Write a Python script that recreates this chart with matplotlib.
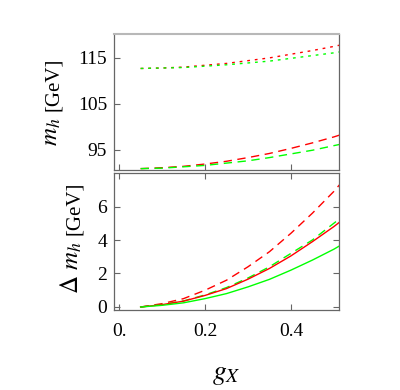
import matplotlib.pyplot as plt
import numpy as np

plt.rcParams["font.family"] = ["Liberation Serif", "DejaVu Serif"]
plt.rcParams["mathtext.fontset"] = "stix"

# coupling values
g_x = [0.05, 0.10, 0.15, 0.20, 0.25, 0.30, 0.35, 0.40, 0.45, 0.50, 0.52]

# Higgs mass, top panel [GeV]
mh_red_dotted = [112.7, 112.8, 113.0, 113.4, 113.8, 114.4, 115.0, 115.8, 116.6, 117.5, 117.9]
mh_green_dotted = [112.7, 112.8, 112.9, 113.2, 113.5, 113.9, 114.3, 114.9, 115.5, 116.1, 116.4]
mh_red_dashed = [90.9, 91.1, 91.4, 91.9, 92.5, 93.3, 94.2, 95.3, 96.5, 97.8, 98.4]
mh_green_dashed = [90.9, 91.0, 91.3, 91.6, 92.1, 92.6, 93.3, 94.1, 94.9, 95.9, 96.3]

# mass shift, bottom panel [GeV]
dm_red_dashed = [0.0, 0.2, 0.5, 1.0, 1.6, 2.4, 3.3, 4.4, 5.6, 6.9, 7.5]
dm_green_dashed = [0.0, 0.15, 0.36, 0.72, 1.16, 1.73, 2.4, 3.2, 4.0, 5.0, 5.4]
dm_red_solid = [0.0, 0.14, 0.35, 0.69, 1.1, 1.66, 2.3, 3.05, 3.9, 4.8, 5.2]
dm_green_solid = [0.0, 0.1, 0.25, 0.5, 0.8, 1.2, 1.65, 2.2, 2.8, 3.45, 3.75]

RED = (1.0, 0.0, 0.0)
GREEN = (0.0, 1.0, 0.0)
DOTTED = (0, (2.0, 3.5))
DASHED = (0, (6.0, 4.0))
FRAME = (0.4, 0.4, 0.4)


def style(ax):
    for s in ax.spines.values():
        s.set_color(FRAME)
        s.set_linewidth(0.9)
    ax.tick_params(direction="in", length=4, width=0.8, color=FRAME,
                   labelsize=14, pad=5)
    ax.tick_params(axis="x", pad=9)
    ax.set_xlim(-0.012, 0.512)
    ax.set_xticks([0.0, 0.2, 0.4])


def ylabel(ax, x, y_big, y_unit, big):
    # big italic symbol + smaller unit, both rotated, sharing one baseline
    kw = dict(transform=ax.transAxes, rotation=90, rotation_mode="anchor",
              ha="center", va="baseline")
    ax.text(x, y_big, big, fontsize=18, **kw)
    ax.text(x, y_unit, "[GeV]", fontsize=15, **kw)


fig = plt.figure(figsize=(4.0, 3.9), dpi=100)
ax1 = fig.add_axes([0.285, 0.5641, 0.5625, 0.3487])
ax2 = fig.add_axes([0.285, 0.2051, 0.5625, 0.3513])

ax1.plot(g_x, mh_red_dotted, color=RED, lw=1.0, ls=DOTTED)
ax1.plot(g_x, mh_green_dotted, color=GREEN, lw=1.0, ls=DOTTED)
ax1.plot(g_x, mh_red_dashed, color=RED, lw=1.0, ls=DASHED)
ax1.plot(g_x, mh_green_dashed, color=GREEN, lw=1.0, ls=DASHED)
style(ax1)
ax1.spines["top"].set_color((0.72, 0.72, 0.72))
ax1.spines["top"].set_linewidth(1.5)
ax1.set_ylim(90.6, 120.2)
ax1.set_yticks([95, 105, 115])
ax1.tick_params(labelbottom=False, bottom=True, left=True)
ylabel(ax1, -0.249, 0.28, 0.63, r"$m_h$")

ax2.plot(g_x, dm_red_dashed, color=RED, lw=1.0, ls=DASHED)
ax2.plot(g_x, dm_green_dashed, color=GREEN, lw=1.0, ls=DASHED)
ax2.plot(g_x, dm_red_solid, color=RED, lw=1.0)
ax2.plot(g_x, dm_green_solid, color=GREEN, lw=1.0)
style(ax2)
ax2.set_ylim(-0.18, 8.0)
ax2.set_yticks([0, 2, 4, 6])
ax2.tick_params(top=True, right=True)
ax2.set_xticklabels(["0.", "0.2", "0.4"])
ylabel(ax2, -0.156, 0.31, 0.74, r"$\Delta\ m_h$")
ax2.set_xlabel(r"$g_X$", fontsize=20, labelpad=16)

fig.savefig("out.png", dpi=100)
